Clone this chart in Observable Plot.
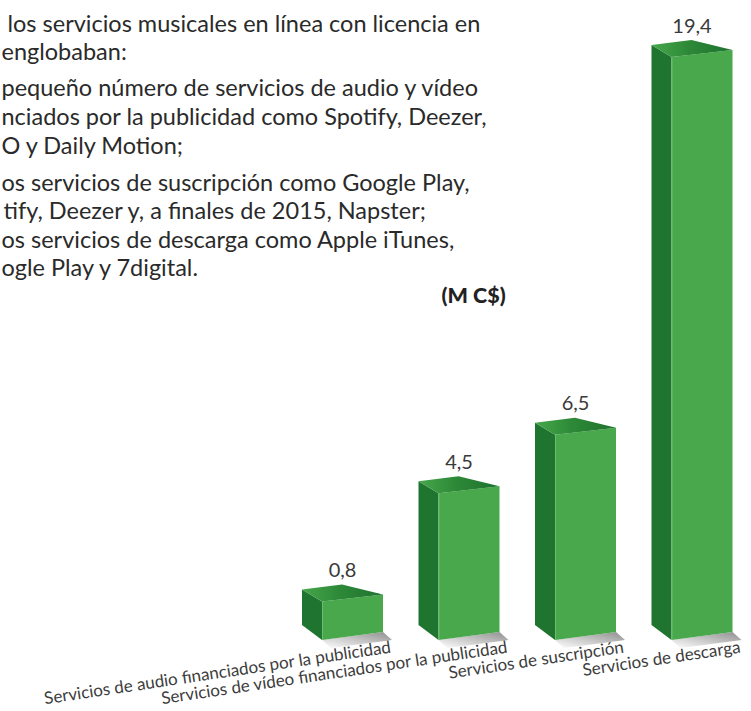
<!DOCTYPE html>
<html><head><meta charset="utf-8">
<script src="https://cdn.jsdelivr.net/npm/d3@7"></script>
<script src="https://cdn.jsdelivr.net/npm/@observablehq/plot@0.6"></script>
<style>
html,body{margin:0;padding:0;background:#fff;}
#chart{width:751px;height:711px;overflow:hidden;}
</style>
</head><body><div id="chart"></div>
<script>
// ---- data ----
const categories = [
  "Servicios de audio financiados por la publicidad",
  "Servicios de vídeo financiados por la publicidad",
  "Servicios de suscripción",
  "Servicios de descarga"
];
const values = [0.8, 4.5, 6.5, 19.4];
const valueLabels = ["0,8", "4,5", "6,5", "19,4"];
const unitLabel = "(M C$)";
const introLines = [
  "los servicios musicales en línea con licencia en",
  "englobaban:",
  "pequeño número de servicios de audio y vídeo",
  "nciados por la publicidad como Spotify, Deezer,",
  "O y Daily Motion;",
  "os servicios de suscripción como Google Play,",
  "tify, Deezer y, a finales de 2015, Napster;",
  "os servicios de descarga como Apple iTunes,",
  "ogle Play y 7digital."
];

// ---- layout (pixels) ----
const W = 751, H = 711;
const introX = [7, 1, 1, 1, 1, 1, 3, 1, 1];
const introBaseline = [31, 59, 95, 124, 153, 190, 218, 247, 275];
const xRange = [322, 671.5];
const yRange = [625, 57];
const yMax = d3.max(values);
const KX = (categories.length - 1) / (xRange[1] - xRange[0]); // x units per px
const KY = yMax / (yRange[0] - yRange[1]);                      // value units per px
const FRONT_W = 61, SIDE_D = 20, APEX = 20;

const bars = categories.map((c, i) => ({i, c, v: values[i], label: valueLabels[i]}));

const side = bars.flatMap(b => [
  {bar: b.i, x: b.i - SIDE_D * KX, y1: 0, y2: b.v + 12 * KY},
  {bar: b.i, x: b.i, y1: -15 * KY, y2: b.v}
]);
const front = bars.flatMap(b => [
  {bar: b.i, x: b.i, y1: -15 * KY, y2: b.v},
  {bar: b.i, x: b.i + FRONT_W * KX, y1: -7 * KY, y2: b.v + 7 * KY}
]);
const topFace = bars.flatMap(b => [
  {bar: b.i, x: b.i - SIDE_D * KX, y1: b.v + 12 * KY, y2: b.v + 12 * KY},
  {bar: b.i, x: b.i, y1: b.v, y2: b.v + 14.5 * KY},
  {bar: b.i, x: b.i + APEX * KX, y1: b.v + 2.3 * KY, y2: b.v + 17 * KY},
  {bar: b.i, x: b.i + FRONT_W * KX, y1: b.v + 7 * KY, y2: b.v + 7 * KY}
]);
const shadow = bars.flatMap(b => [
  {bar: b.i, x: b.i, y1: -15 * KY, y2: -15 * KY},
  {bar: b.i, x: b.i + 9 * KX, y1: -23 * KY, y2: -13.82 * KY},
  {bar: b.i, x: b.i + FRONT_W * KX, y1: -16.18 * KY, y2: -7 * KY},
  {bar: b.i, x: b.i + (FRONT_W + 9) * KX, y1: -15 * KY, y2: -15 * KY}
]);

const font = "Lato, 'Noto Sans', sans-serif";

const svg = Plot.plot({
  width: W, height: H,
  margin: 0,
  style: {background: "#fff", fontFamily: font, overflow: "hidden"},
  x: {type: "linear", domain: [0, categories.length - 1], range: xRange, axis: null},
  y: {type: "linear", domain: [0, yMax], range: yRange, axis: null},
  marks: [
    ...introLines.map((t, i) => Plot.text([t], {
      frameAnchor: "top-left", dx: introX[i], dy: introBaseline[i],
      text: d => d, textAnchor: "start", lineAnchor: "bottom",
      fontSize: 23.5, fill: "#2a2a2a"
    })),
    Plot.text([unitLabel], {
      frameAnchor: "top-left", dx: 441, dy: 302, text: d => d,
      textAnchor: "start", lineAnchor: "bottom",
      fontSize: 21.5, fontWeight: 900, fill: "#222"
    }),
    Plot.area(shadow, {x1: "x", y1: "y1", y2: "y2", z: "bar", fill: "url(#shadowGrad)", curve: "linear"}),
    Plot.area(side, {x1: "x", y1: "y1", y2: "y2", z: "bar", fill: "#1f7530", curve: "linear"}),
    Plot.area(front, {x1: "x", y1: "y1", y2: "y2", z: "bar", fill: "#48a84b", curve: "linear"}),
    Plot.area(topFace, {x1: "x", y1: "y1", y2: "y2", z: "bar", fill: "url(#topGrad)", curve: "linear"}),
    Plot.ruleX(bars, {x: "i", y1: -15 * KY, y2: "v", stroke: "#7cc67e", strokeWidth: 1, strokeOpacity: 0.7}),
    Plot.text(bars, {
      x: d => d.i + APEX * KX, y: d => d.v + 17 * KY, text: "label",
      dy: -8, lineAnchor: "bottom", textAnchor: "middle",
      fontSize: 20, fill: "#3a3a3a"
    }),
    Plot.text(bars, {
      x: d => d.i + FRONT_W * KX, y: -7 * KY, text: "c",
      dx: 8, dy: 20, rotate: -8.5, textAnchor: "end", lineAnchor: "bottom",
      fontSize: 17, fill: "#3d3d3d"
    })
  ]
});

const defs = d3.select(svg).insert("defs", ":first-child");
const tg = defs.append("linearGradient").attr("id", "topGrad")
  .attr("x1", 0).attr("y1", 0).attr("x2", 1).attr("y2", 0);
tg.append("stop").attr("offset", "0%").attr("stop-color", "#46a74b");
tg.append("stop").attr("offset", "45%").attr("stop-color", "#2d8937");
tg.append("stop").attr("offset", "100%").attr("stop-color", "#1f7230");
const sg = defs.append("linearGradient").attr("id", "shadowGrad")
  .attr("x1", 1).attr("y1", 0).attr("x2", 0).attr("y2", 1);
sg.append("stop").attr("offset", "0%").attr("stop-color", "#8e8e8e");
sg.append("stop").attr("offset", "100%").attr("stop-color", "#ffffff");

document.getElementById("chart").appendChild(svg);
</script>
</body></html>
